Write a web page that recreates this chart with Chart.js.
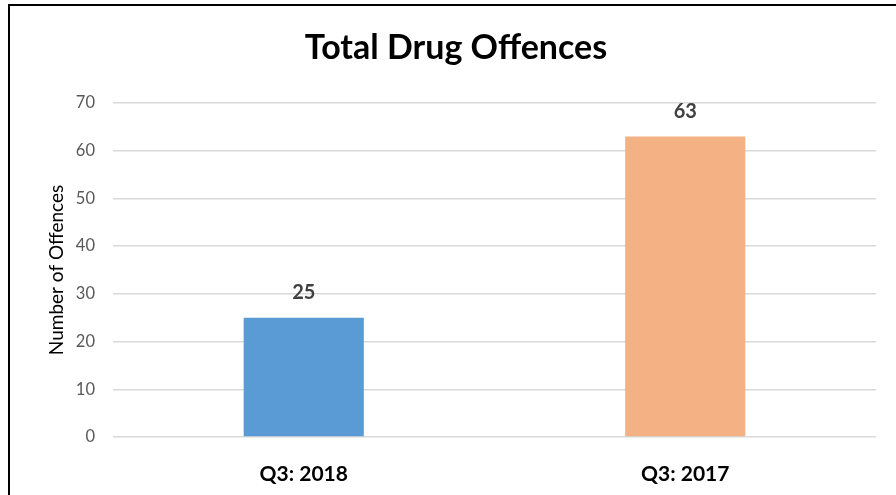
<!DOCTYPE html>
<html><head><meta charset="utf-8">
<script src="https://cdn.jsdelivr.net/npm/chart.js@4"></script>
<style>html,body{margin:0;padding:0;background:#fff;}#wrap{width:896px;height:495px;position:relative;}</style>
</head><body><div id="wrap"><canvas id="c" width="896" height="495"></canvas></div>
<script>
const categories = ["Q3: 2018", "Q3: 2017"];
const offences = [25, 63];
const barColors = ["#5B9BD5", "#F4B183"];
const yTicks = [0, 10, 20, 30, 40, 50, 60, 70];
const chartTitle = "Total Drug Offences";
const yTitle = "Number of Offences";
const FONT = "Lato, 'Open Sans', sans-serif";

const framePlugin = {
  id: 'frame',
  beforeDraw(chart) {
    const ctx = chart.ctx;
    ctx.save();
    ctx.fillStyle = '#fff';
    ctx.fillRect(0, 0, chart.width, chart.height);
    ctx.strokeStyle = '#000';
    ctx.lineWidth = 2;
    ctx.strokeRect(9, 5, 1000, 1000);
    ctx.restore();
  },
  afterDraw(chart) {
    const ctx = chart.ctx;
    const a = chart.chartArea;
    ctx.save();
    ctx.font = "bold 34px " + FONT;
    ctx.fillStyle = '#000';
    ctx.textAlign = 'center';
    ctx.textBaseline = 'middle';
    ctx.fillText(chartTitle, 456, 48);
    ctx.translate(57, (a.top + a.bottom) / 2);
    ctx.rotate(-Math.PI / 2);
    ctx.font = "19px " + FONT;
    ctx.fillText(yTitle, 0, 0);
    ctx.restore();
  }
};
const labelPlugin = {
  id: 'vlabels',
  afterDatasetsDraw(chart) {
    const ctx = chart.ctx;
    const meta = chart.getDatasetMeta(0);
    ctx.save();
    ctx.font = "bold 20px " + FONT;
    ctx.fillStyle = '#404040';
    ctx.textAlign = 'center';
    ctx.textBaseline = 'middle';
    meta.data.forEach((bar, i) => {
      ctx.fillText(String(offences[i]), bar.x, bar.y - 25);
    });
    ctx.restore();
  }
};

new Chart(document.getElementById('c'), {
  type: 'bar',
  data: {
    labels: categories,
    datasets: [{
      data: offences,
      backgroundColor: barColors,
      barPercentage: 0.315,
      categoryPercentage: 1.0
    }]
  },
  options: {
    responsive: false,
    animation: false,
    layout: { padding: { left: 0, right: 20, top: 103, bottom: 0 } },
    plugins: {
      legend: { display: false },
      tooltip: { enabled: false },
      title: { display: false }
    },
    scales: {
      x: {
        grid: { display: false },
        border: { display: false },
        ticks: { color: '#000', font: { family: FONT, size: 21, weight: 'bold' }, padding: 17 },
        afterFit(s) { s.height = 58; }
      },
      y: {
        min: 0, max: 70,
        afterBuildTicks(s) { s.ticks = yTicks.map(v => ({ value: v })); },
        grid: { color: '#d9d9d9', lineWidth: 1.5, drawTicks: false },
        border: { display: false },
        ticks: { color: '#595959', font: { family: FONT, size: 16.5 }, padding: 18 },
        afterFit(s) { s.width = 113; }
      }
    }
  },
  plugins: [framePlugin, labelPlugin]
});
</script></body></html>
